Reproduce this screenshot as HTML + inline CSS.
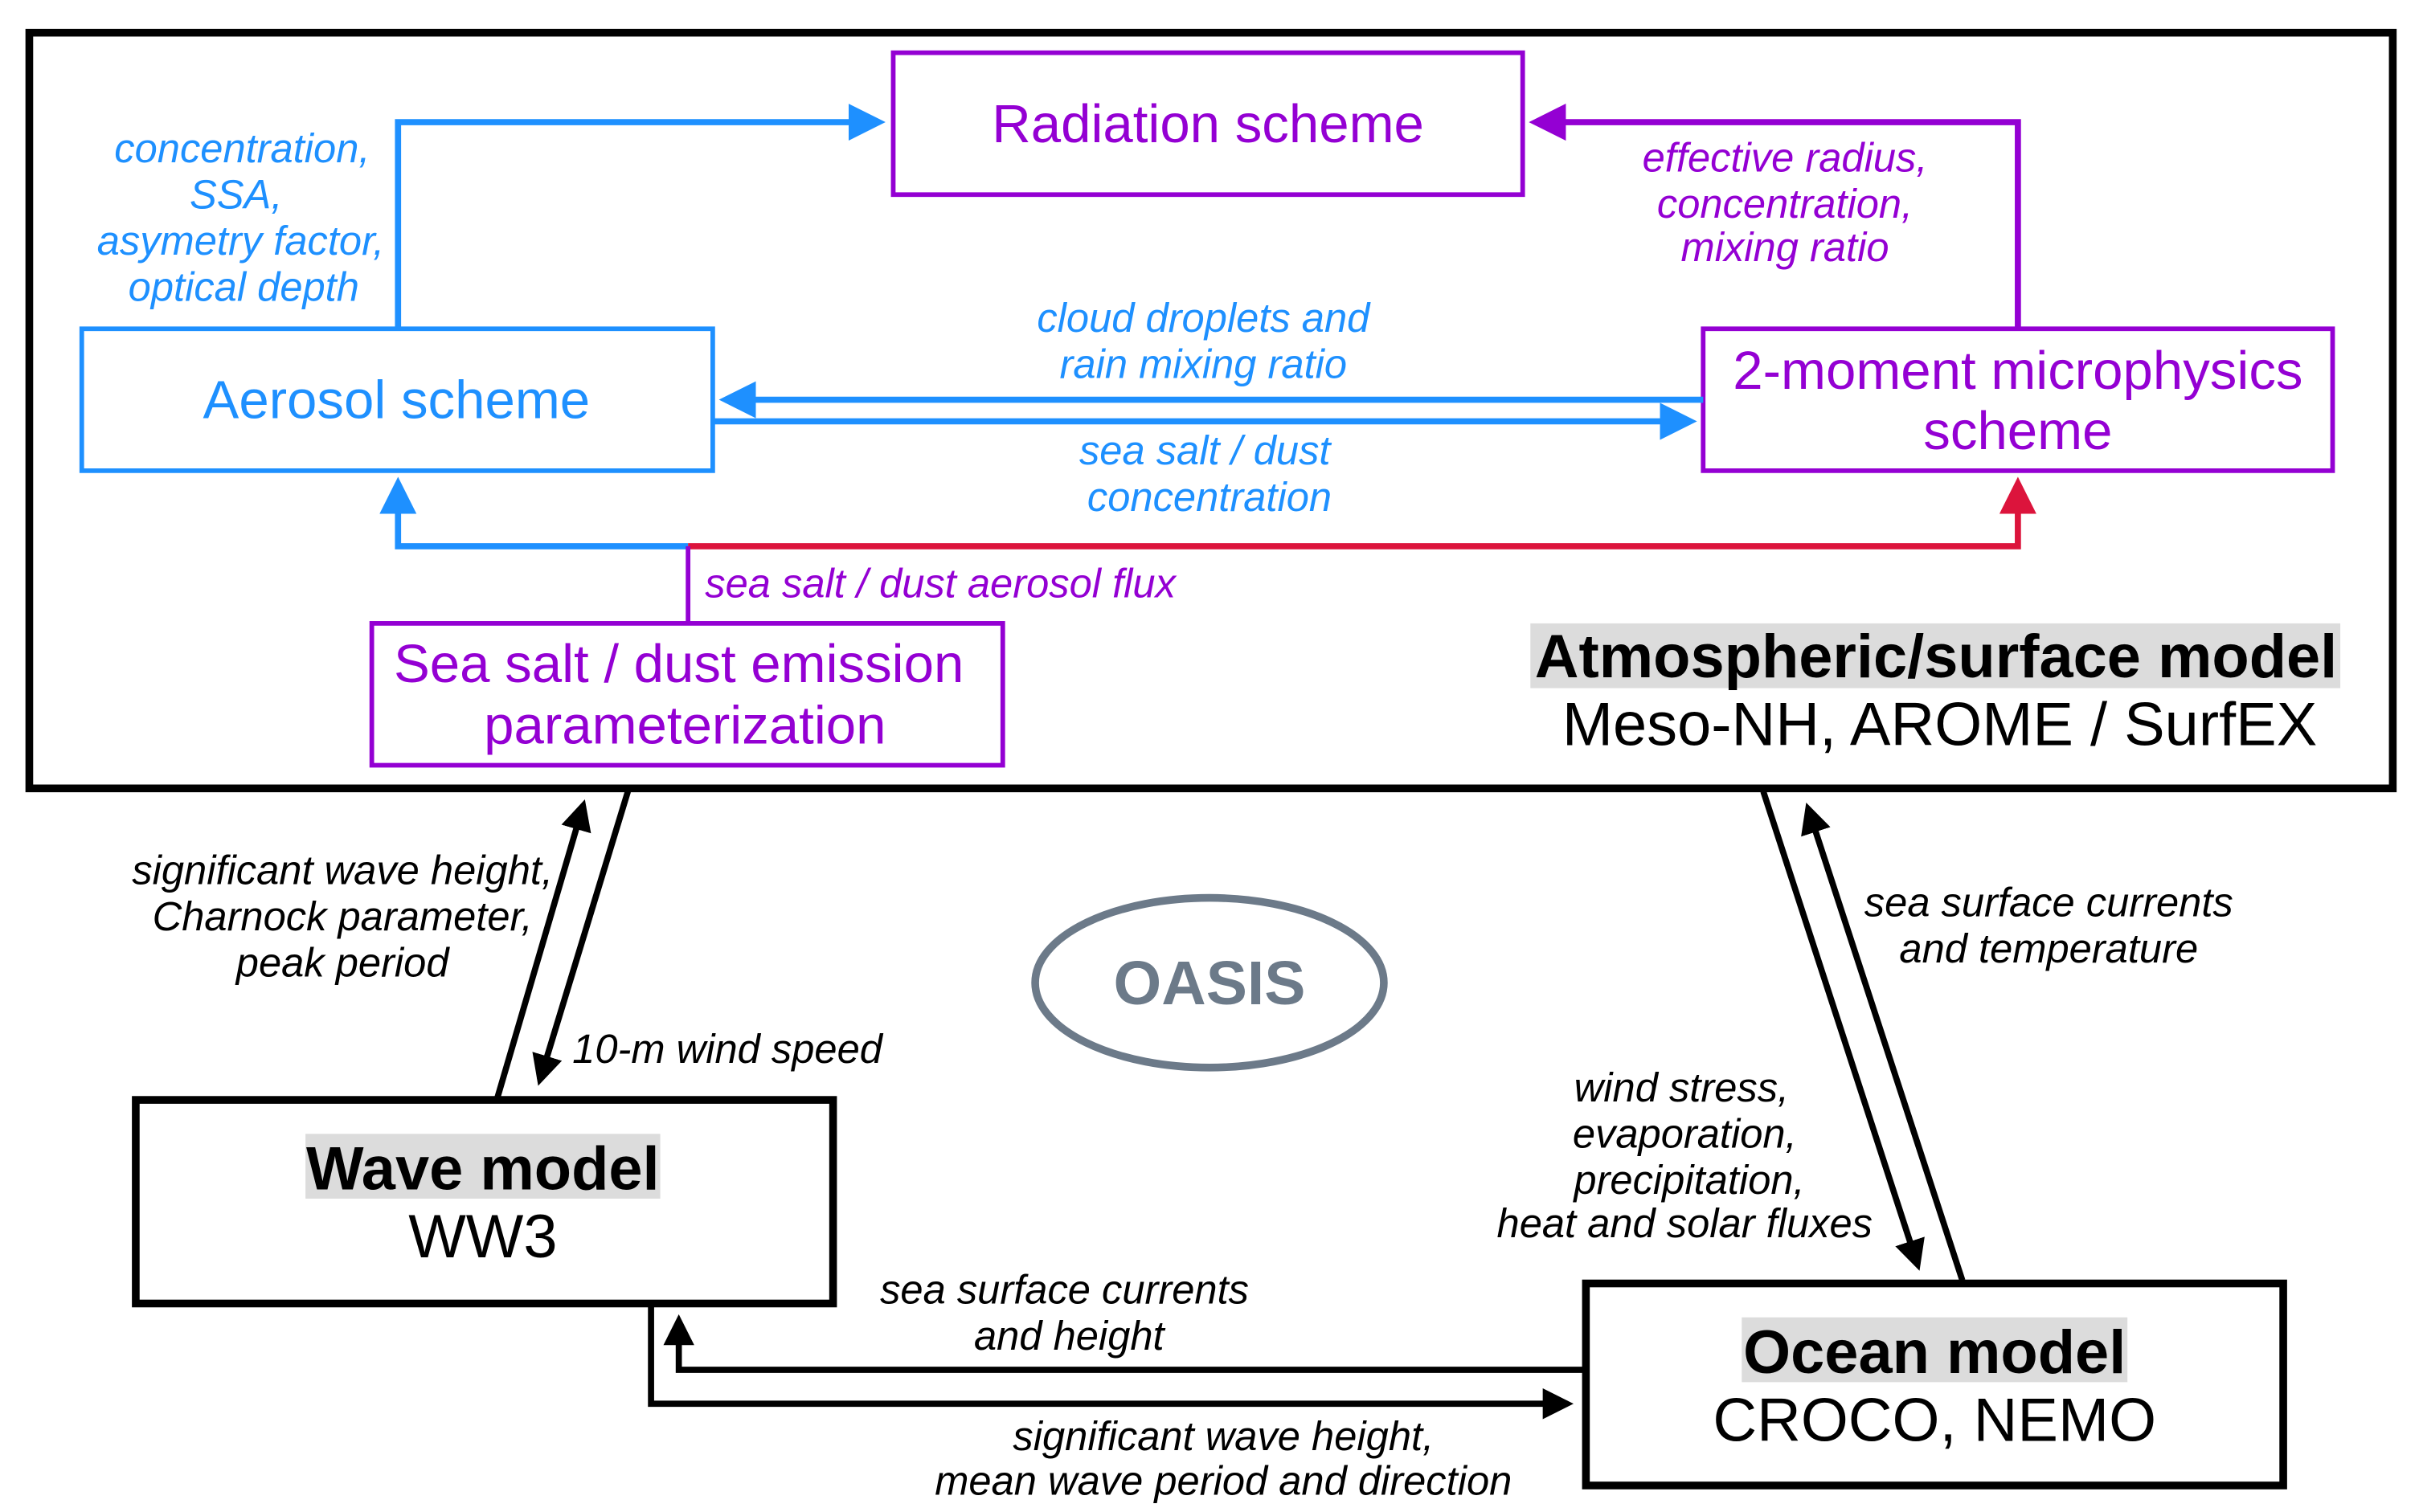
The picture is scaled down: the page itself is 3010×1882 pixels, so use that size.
<!DOCTYPE html>
<html><head><meta charset="utf-8"><style>
html,body{margin:0;padding:0;background:#fff;}
svg{display:block;}
text{font-family:"Liberation Sans",sans-serif;}
.b{fill:#1e90ff;font-style:italic;font-size:26.4px;}
.p{fill:#9400d3;font-style:italic;font-size:26.4px;}
.k{fill:#000;font-style:italic;font-size:26.4px;}
</style></head><body>
<svg width="3010" height="1882" viewBox="0 0 1568 980" xmlns="http://www.w3.org/2000/svg">
<defs>
<marker id="ab" markerWidth="6" markerHeight="6" refX="5" refY="3" orient="auto" markerUnits="strokeWidth"><path d="M0,0 L6,3 L0,6 z" fill="#1e90ff"/></marker>
<marker id="ap" markerWidth="6" markerHeight="6" refX="5" refY="3" orient="auto" markerUnits="strokeWidth"><path d="M0,0 L6,3 L0,6 z" fill="#9400d3"/></marker>
<marker id="ar" markerWidth="6" markerHeight="6" refX="5" refY="3" orient="auto" markerUnits="strokeWidth"><path d="M0,0 L6,3 L0,6 z" fill="#dc143c"/></marker>
<marker id="ak" markerWidth="5" markerHeight="5" refX="4" refY="2.5" orient="auto" markerUnits="strokeWidth"><path d="M0,0 L5,2.5 L0,5 z" fill="#000"/></marker>
</defs>
<rect x="19" y="21" width="1532" height="490" fill="none" stroke="#000" stroke-width="5"/>
<rect x="579" y="34" width="408" height="92" fill="none" stroke="#9400d3" stroke-width="3"/>
<text x="783" y="92" text-anchor="middle" font-size="35" fill="#9400d3">Radiation scheme</text>
<rect x="53" y="213" width="409" height="92" fill="none" stroke="#1e90ff" stroke-width="3"/>
<text x="257" y="271" text-anchor="middle" font-size="35" fill="#1e90ff">Aerosol scheme</text>
<rect x="1104" y="213" width="408" height="92" fill="none" stroke="#9400d3" stroke-width="3"/>
<text x="1308" y="252" text-anchor="middle" font-size="35" fill="#9400d3">2-moment microphysics</text>
<text x="1308" y="291" text-anchor="middle" font-size="35" fill="#9400d3">scheme</text>
<rect x="241" y="404" width="409" height="92" fill="none" stroke="#9400d3" stroke-width="3"/>
<text x="440" y="442" text-anchor="middle" font-size="35" fill="#9400d3">Sea salt / dust emission</text>
<text x="444" y="482" text-anchor="middle" font-size="35" fill="#9400d3">parameterization</text>
<rect x="992" y="404" width="525" height="42" fill="#dcdcdc"/>
<text x="1515" y="439" text-anchor="end" font-size="39.5" font-weight="bold">Atmospheric/surface model</text>
<text x="1502" y="483" text-anchor="end" font-size="39.5">Meso-NH, AROME / SurfEX</text>
<polyline points="258,213 258,79 570,79" fill="none" stroke="#1e90ff" stroke-width="4" marker-end="url(#ab)"/>
<polyline points="1308,213 1308,79 995,79" fill="none" stroke="#9400d3" stroke-width="4" marker-end="url(#ap)"/>
<line x1="1104" y1="259" x2="470" y2="259" stroke="#1e90ff" stroke-width="4" marker-end="url(#ab)"/>
<line x1="462" y1="273" x2="1096" y2="273" stroke="#1e90ff" stroke-width="4" marker-end="url(#ab)"/>
<polyline points="446,354 258,354 258,313" fill="none" stroke="#1e90ff" stroke-width="4" marker-end="url(#ab)"/>
<polyline points="446,354 1308,354 1308,313" fill="none" stroke="#dc143c" stroke-width="4" marker-end="url(#ar)"/>
<line x1="446" y1="354" x2="446" y2="404" stroke="#9400d3" stroke-width="3"/>
<text class="b" text-anchor="middle"><tspan x="157" y="105">concentration,</tspan><tspan x="153" y="135">SSA,</tspan><tspan x="156" y="165">asymetry factor,</tspan><tspan x="158" y="195">optical depth</tspan></text>
<text class="p" text-anchor="middle"><tspan x="1157" y="111">effective radius,</tspan><tspan x="1157" y="141">concentration,</tspan><tspan x="1157" y="169">mixing ratio</tspan></text>
<text class="b" text-anchor="middle"><tspan x="780" y="215">cloud droplets and</tspan><tspan x="780" y="245">rain mixing ratio</tspan></text>
<text class="b" text-anchor="middle"><tspan x="781" y="301">sea salt / dust</tspan><tspan x="784" y="331">concentration</tspan></text>
<text class="p" x="457" y="387">sea salt / dust aerosol flux</text>
<ellipse cx="784" cy="637" rx="113" ry="55" fill="none" stroke="#6c7a89" stroke-width="5"/>
<text x="784" y="651" text-anchor="middle" font-size="40" font-weight="bold" fill="#6c7a89">OASIS</text>
<rect x="88" y="713" width="452" height="132" fill="none" stroke="#000" stroke-width="5"/>
<rect x="198" y="735" width="230" height="42" fill="#dcdcdc"/>
<text x="313" y="771" text-anchor="middle" font-size="39.5" font-weight="bold">Wave model</text>
<text x="313" y="815" text-anchor="middle" font-size="39.5">WW3</text>
<rect x="1028" y="832" width="452" height="131" fill="none" stroke="#000" stroke-width="5"/>
<rect x="1129" y="854" width="250" height="42" fill="#dcdcdc"/>
<text x="1254" y="890" text-anchor="middle" font-size="39.5" font-weight="bold">Ocean model</text>
<text x="1254" y="934" text-anchor="middle" font-size="39.5">CROCO, NEMO</text>
<line x1="322" y1="713" x2="378" y2="522" stroke="#000" stroke-width="4" marker-end="url(#ak)"/>
<line x1="407" y1="513" x2="350" y2="700" stroke="#000" stroke-width="4" marker-end="url(#ak)"/>
<line x1="1143" y1="513" x2="1243" y2="820" stroke="#000" stroke-width="4" marker-end="url(#ak)"/>
<line x1="1272" y1="830" x2="1172" y2="524" stroke="#000" stroke-width="4" marker-end="url(#ak)"/>
<polyline points="1028,888 440,888 440,856" fill="none" stroke="#000" stroke-width="4" marker-end="url(#ak)"/>
<polyline points="422,845 422,910 1016,910" fill="none" stroke="#000" stroke-width="4" marker-end="url(#ak)"/>
<text class="k" text-anchor="middle"><tspan x="222" y="573">significant wave height,</tspan><tspan x="222" y="603">Charnock parameter,</tspan><tspan x="222" y="633">peak period</tspan></text>
<text class="k" x="371" y="689">10-m wind speed</text>
<text class="k" text-anchor="middle"><tspan x="1328" y="594">sea surface currents</tspan><tspan x="1328" y="624">and temperature</tspan></text>
<text class="k" text-anchor="middle"><tspan x="1090" y="714">wind stress,</tspan><tspan x="1092" y="744">evaporation,</tspan><tspan x="1095" y="774">precipitation,</tspan><tspan x="1092" y="802">heat and solar fluxes</tspan></text>
<text class="k" text-anchor="middle"><tspan x="690" y="845">sea surface currents</tspan><tspan x="693" y="875">and height</tspan></text>
<text class="k" text-anchor="middle"><tspan x="793" y="940">significant wave height,</tspan><tspan x="793" y="969">mean wave period and direction</tspan></text>
</svg>
</body></html>
